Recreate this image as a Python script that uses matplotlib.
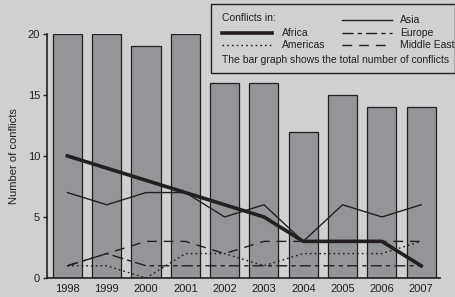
import matplotlib
matplotlib.use('Agg')
import matplotlib.pyplot as plt
from matplotlib.lines import Line2D
from matplotlib.patches import Rectangle

plt.rcParams['font.family'] = ['Liberation Sans', 'DejaVu Sans']

years = [1998, 1999, 2000, 2001, 2002, 2003, 2004, 2005, 2006, 2007]
total = [20, 20, 19, 20, 16, 16, 12, 15, 14, 14]
africa = [10, 9, 8, 7, 6, 5, 3, 3, 3, 1]
asia = [7, 6, 7, 7, 5, 6, 3, 6, 5, 6]
americas = [1, 1, 0, 2, 2, 1, 2, 2, 2, 3]
europe = [1, 2, 1, 1, 1, 1, 1, 1, 1, 1]
middle_east = [1, 2, 3, 3, 2, 3, 3, 3, 3, 3]

bg = '#cfd0d2'
ink = '#231f20'
barcol = '#939598'

fig = plt.figure(figsize=(4.56, 2.97), dpi=100, facecolor=bg)
ax = fig.add_axes([0.103, 0.064, 0.862, 0.822])
ax.set_facecolor(bg)

# bars = total conflicts
ax.bar(years, total, width=0.74, color=barcol, edgecolor=ink, linewidth=0.9, zorder=1)

# regional lines
ax.plot(years, africa, color=ink, lw=2.6, zorder=3)
ax.plot(years, asia, color=ink, lw=1.0, zorder=3)
ax.plot(years, americas, color=ink, lw=1.0, ls=(0, (1.2, 2.2)), zorder=3)
ax.plot(years, europe, color=ink, lw=1.0, ls=(0, (8, 3, 3, 3)), zorder=3)
ax.plot(years, middle_east, color=ink, lw=1.0, ls=(0, (7, 5)), zorder=3)

ax.set_xlim(1997.48, 2007.48)
ax.set_ylim(0, 20)
ax.set_xticks(years)
ax.set_yticks([0, 5, 10, 15, 20])
ax.tick_params(axis='x', length=0, pad=4, labelsize=8, colors=ink)
ax.tick_params(axis='y', length=3, width=1, pad=2, labelsize=8, colors=ink)
ax.spines['top'].set_visible(False)
ax.spines['right'].set_visible(False)
ax.spines['left'].set_color(ink)
ax.spines['bottom'].set_color(ink)
ax.spines['left'].set_linewidth(1.2)
ax.spines['bottom'].set_linewidth(1.2)
ax.set_ylabel('Number of conflicts', fontsize=8, color=ink, labelpad=6)

# legend box drawn by hand
W, H = 456.0, 297.0
def fx(px):
    return px / W
def fy(py):
    return 1 - py / H

box = Rectangle((fx(211), fy(73)), fx(455) - fx(211), fy(4) - fy(73),
                transform=fig.transFigure, facecolor=bg, edgecolor=ink, lw=1.0, zorder=5)
fig.patches.append(box)

fs = 7.5
fig.text(fx(222), fy(18), 'Conflicts in:', fontsize=fs, color=ink, va='center', zorder=7)
entries = [
    ('Africa', 222, 272, 282, 33, dict(lw=2.6, ls='-')),
    ('Americas', 222, 272, 282, 45, dict(lw=1.0, ls=(0, (1.2, 2.2)))),
    ('Asia', 342, 392, 400, 20, dict(lw=1.0, ls='-')),
    ('Europe', 342, 392, 400, 33, dict(lw=1.0, ls=(0, (8, 3, 3, 3)))),
    ('Middle East', 342, 392, 400, 45, dict(lw=1.0, ls=(0, (7, 5)))),
]
for name, x0, x1, xt, y, st in entries:
    fig.add_artist(Line2D([fx(x0), fx(x1)], [fy(y), fy(y)], transform=fig.transFigure,
                          color=ink, zorder=6, **st))
    fig.text(fx(xt), fy(y), name, fontsize=fs, color=ink, va='center', zorder=7)
fig.text(fx(222), fy(60), 'The bar graph shows the total number of conflicts',
         fontsize=fs, color=ink, va='center', zorder=7)

fig.savefig('out.png', dpi=100, facecolor=bg)
